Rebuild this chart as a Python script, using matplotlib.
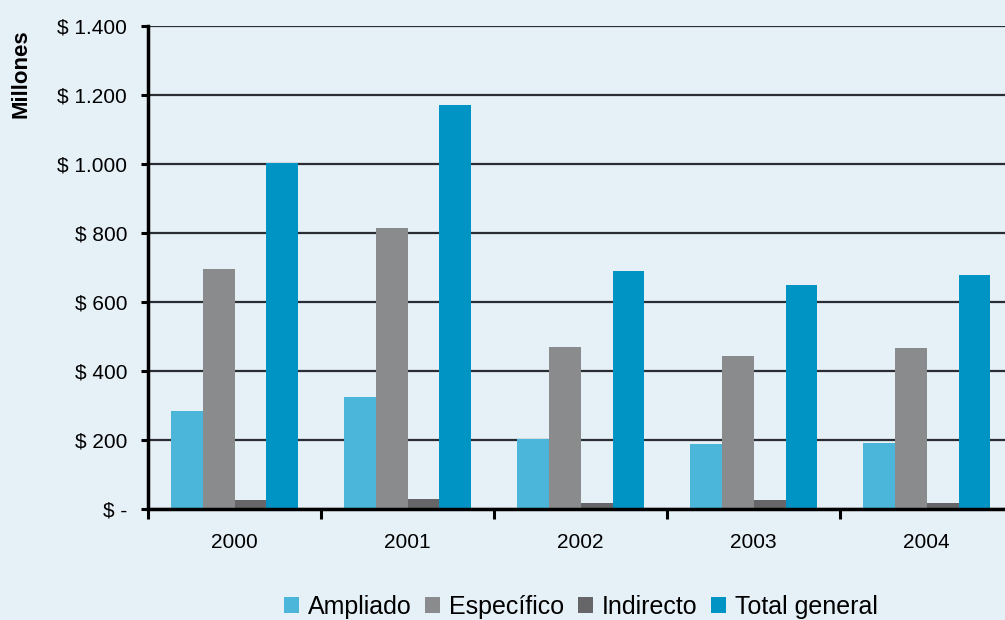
import matplotlib.pyplot as plt
import numpy as np
from matplotlib.patches import Patch

plt.rcParams['font.family'] = ['Liberation Sans', 'DejaVu Sans']

years = ['2000', '2001', '2002', '2003', '2004']
series_names = ['Ampliado', 'Específico', 'Indirecto', 'Total general']
ampliado = [284, 325, 203, 188, 191]
especifico = [696, 814, 470, 443, 467]
indirecto = [26, 29, 17, 26, 17]
total = [1003, 1171, 690, 649, 678]
colors = ['#4bb6d9', '#8a8b8d', '#666668', '#0094c4']
yticks = [0, 200, 400, 600, 800, 1000, 1200, 1400]

bg = '#e6f0f7'
fig = plt.figure(figsize=(10.05, 6.2), dpi=100, facecolor=bg)
ax = fig.add_axes([0.1473, 0.179, 0.861, 0.779], facecolor=bg)

x = np.arange(len(years))
w = 0.184
all_series = [ampliado, especifico, indirecto, total]
for i, vals in enumerate(all_series):
    ax.bar(x + (i - 1.5) * w, vals, width=w, color=colors[i], zorder=3)

ax.set_xlim(-0.5, len(years) - 0.5)
ax.set_ylim(0, 1400)
ax.set_yticks(yticks)
ax.set_yticklabels(['$ -'] + ['$ ' + f'{v:,}'.replace(',', '.') for v in yticks[1:]])
ax.yaxis.grid(True, color='#2a2e33', linewidth=1.6, zorder=1)

ax.set_xticks(np.arange(len(years) + 1) - 0.5)
ax.set_xticklabels([])
ax.set_xticks(x, minor=True)
ax.set_xticklabels(years, minor=True)
ax.tick_params(axis='x', which='minor', length=0, pad=17, labelsize=15)
ax.tick_params(axis='x', which='major', length=7, width=2.2, direction='out')
ax.tick_params(axis='y', length=5, width=2.2, direction='out', labelsize=15, pad=10)

for s in ['top', 'right']:
    ax.spines[s].set_visible(False)
for s in ['left', 'bottom']:
    ax.spines[s].set_linewidth(2.5)
    ax.spines[s].set_zorder(4)

fig.text(0.021, 0.881, 'Millones', rotation=90, fontsize=16, fontweight='bold',
         ha='center', va='center')

handles = [Patch(facecolor=c) for c in colors]
fig.legend(handles, series_names, loc='lower center', bbox_to_anchor=(0.578, -0.034),
           ncol=4, frameon=False, fontsize=18, handlelength=0.6, handleheight=0.6,
           handletextpad=0.35, columnspacing=0.55)

fig.savefig('out.png', dpi=100, facecolor=bg)
